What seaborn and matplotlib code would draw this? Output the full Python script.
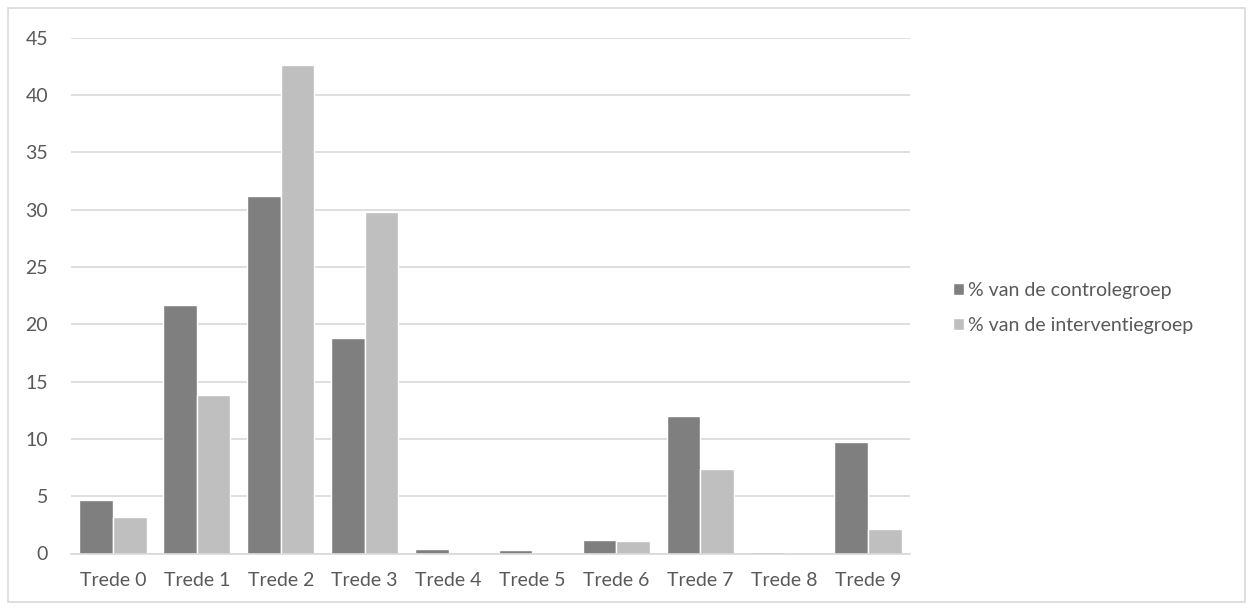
import numpy as np
import pandas as pd
import seaborn as sns
import matplotlib
matplotlib.use("Agg")
import matplotlib.pyplot as plt
from matplotlib.patches import Rectangle

categories = ["Trede 0", "Trede 1", "Trede 2", "Trede 3", "Trede 4",
              "Trede 5", "Trede 6", "Trede 7", "Trede 8", "Trede 9"]
controle = [4.7, 21.7, 31.2, 18.8, 0.4, 0.3, 1.2, 12.0, 0.1, 9.7]
interventie = [3.2, 13.8, 42.6, 29.8, 0.0, 0.0, 1.1, 7.4, 0.0, 2.1]
series_names = ["% van de controlegroep", "% van de interventiegroep"]
yticks = [0, 5, 10, 15, 20, 25, 30, 35, 40, 45]

df = pd.DataFrame({
    "cat": categories * 2,
    "val": controle + interventie,
    "serie": [series_names[0]] * len(categories) + [series_names[1]] * len(categories),
})

sns.set_theme(style="white")
plt.rcParams['font.family'] = ['Lato', 'DejaVu Sans']

fig = plt.figure(figsize=(12.53, 6.10), dpi=100)
ax = fig.add_axes([71 / 1253, 1 - 553.5 / 610, (910 - 71) / 1253, (553.5 - 37.7) / 610])

sns.barplot(data=df, x="cat", y="val", hue="serie", order=categories,
            hue_order=series_names, palette=["#7f7f7f", "#bfbfbf"],
            width=0.8, ax=ax, saturation=1, legend=True)

ax.set_ylim(0, 45)
ax.set_xlim(-0.5, len(categories) - 0.5)
ax.set_yticks(yticks)
ax.set_yticklabels([str(t) for t in yticks])
ax.yaxis.grid(True, color="#d9d9d9", linewidth=1.2)
ax.set_axisbelow(True)
for s in ["top", "right", "left"]:
    ax.spines[s].set_visible(False)
ax.spines["bottom"].set_color("#d9d9d9")
ax.spines["bottom"].set_linewidth(1.2)
ax.tick_params(axis="both", length=0, labelsize=14, labelcolor="#595959")
ax.tick_params(axis="y", pad=16.5)
ax.tick_params(axis="x", pad=13)
ax.set_xlabel("")
ax.set_ylabel("")

handles, labels = ax.get_legend_handles_labels()
ax.legend_.remove()
fig.legend(handles, labels, loc="center left", bbox_to_anchor=(935 / 1253, 1 - 308 / 610),
           frameon=False, fontsize=14, labelcolor="#595959",
           handlelength=0.58, handleheight=0.58, handletextpad=0.2, labelspacing=0.95)

fig.patches.append(Rectangle((8 / 1253, 8 / 610), 1 - 16 / 1253, 1 - 16 / 610,
                             transform=fig.transFigure, fill=False,
                             edgecolor="#d9d9d9", linewidth=1.2))

fig.savefig("out.png", dpi=100, facecolor="white")
